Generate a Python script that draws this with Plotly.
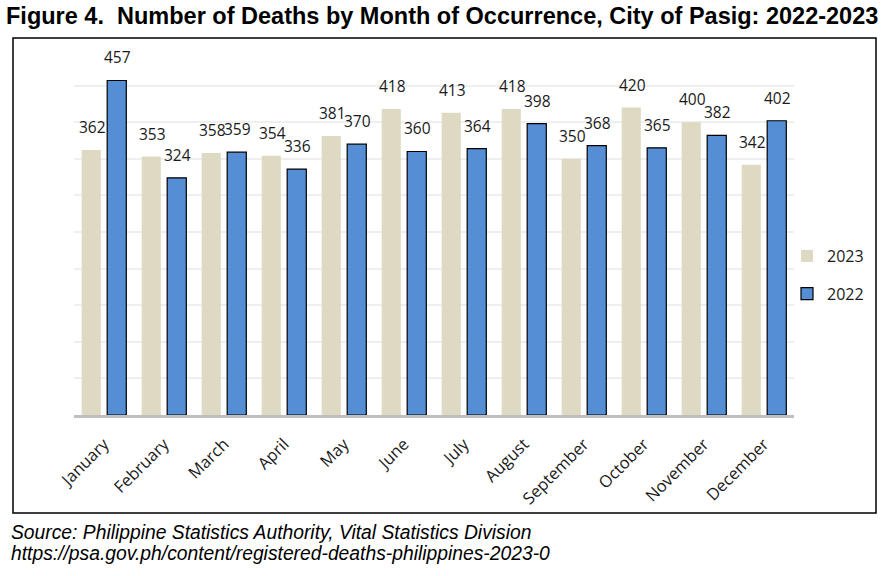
import plotly.graph_objects as go

months = ["January", "February", "March", "April", "May", "June", "July",
          "August", "September", "October", "November", "December"]
deaths_2023 = [362, 353, 358, 354, 381, 418, 413, 418, 350, 420, 400, 342]
deaths_2022 = [457, 324, 359, 336, 370, 360, 364, 398, 368, 365, 382, 402]

W, H = 891, 576
L, R, T, B = 74, 97, 49, 161
PW, PH = W - L - R, H - T - B

def px_x(x):
    return (x - L) / PW

def px_y(y):
    return (H - B - y) / PH

fig = go.Figure()
fig.add_trace(go.Bar(name="2023", x=months, y=deaths_2023,
                     marker=dict(color="#DDD9C3", line=dict(width=0)),
                     legendgroup="a"))
fig.add_trace(go.Bar(name="2022", x=months, y=deaths_2022,
                     marker=dict(color="#558ED5", line=dict(color="#000000", width=1.2)),
                     legendgroup="b"))

label_font = dict(family="Open Sans, Noto Sans, sans-serif", size=15.5, color="#1a1a1a")
slot = PW / 12 * 0.85 / 2
for vals, shift in ((deaths_2023, -slot / 2), (deaths_2022, slot / 2)):
    for m, v in zip(months, vals):
        fig.add_annotation(x=m, y=v, text=str(v), showarrow=False,
                           xshift=shift + 1, yshift=10, yanchor="bottom",
                           font=label_font)

src_font = dict(family="Liberation Sans, Arial, sans-serif", size=19.3, color="#000")
fig.add_annotation(xref="paper", yref="paper", x=px_x(9), y=px_y(532),
                   xanchor="left", yanchor="middle", showarrow=False,
                   text="<i>Source: Philippine Statistics Authority, Vital Statistics Division</i>",
                   font=src_font)
fig.add_annotation(xref="paper", yref="paper", x=px_x(9), y=px_y(553),
                   xanchor="left", yanchor="middle", showarrow=False,
                   text="<i>https://psa.gov.ph/content/registered-deaths-philippines-2023-0</i>",
                   font=src_font)

fig.add_shape(type="rect", xref="paper", yref="paper",
              x0=px_x(13), x1=px_x(876), y0=px_y(513), y1=px_y(38),
              line=dict(color="#000000", width=1.5), fillcolor="rgba(0,0,0,0)", layer="below")

fig.update_layout(
    width=W, height=H,
    margin=dict(l=L, r=R, t=T, b=B),
    paper_bgcolor="white", plot_bgcolor="white",
    barmode="group", bargap=0.15, bargroupgap=0.25,
    title=dict(text="Figure 4.\u00a0 Number of Deaths by Month of Occurrence, City of Pasig: 2022-2023",
               xref="container", yref="container", x=6 / W, xanchor="left",
               y=1 - 16 / H, yanchor="middle",
               font=dict(family="Liberation Sans, Arial, sans-serif", size=23.5, color="#000",
                         weight="bold")),
    legend=dict(x=px_x(787), xanchor="left", y=px_y(275), yanchor="middle",
                font=dict(family="Open Sans, Noto Sans, sans-serif", size=16, color="#1a1a1a"),
                tracegroupgap=14, traceorder="grouped", bgcolor="rgba(0,0,0,0)"),
    xaxis=dict(showline=True, linecolor="#BFBFBF", linewidth=3, showgrid=False,
               tickangle=-45, ticks="", ticklabelstandoff=10,
               tickfont=dict(family="Open Sans, Noto Sans, sans-serif", size=16.5, color="#1a1a1a")),
    yaxis=dict(range=[0, 500], dtick=50, showgrid=True, gridcolor="#EFEFEF", gridwidth=2,
               showticklabels=False, zeroline=False, showline=False),
    font=dict(family="Open Sans, sans-serif"),
    showlegend=True,
)

fig.write_html("out.html", config={"displayModeBar": False},
               post_script="document.body.style.margin='0';document.body.style.padding='0';")
